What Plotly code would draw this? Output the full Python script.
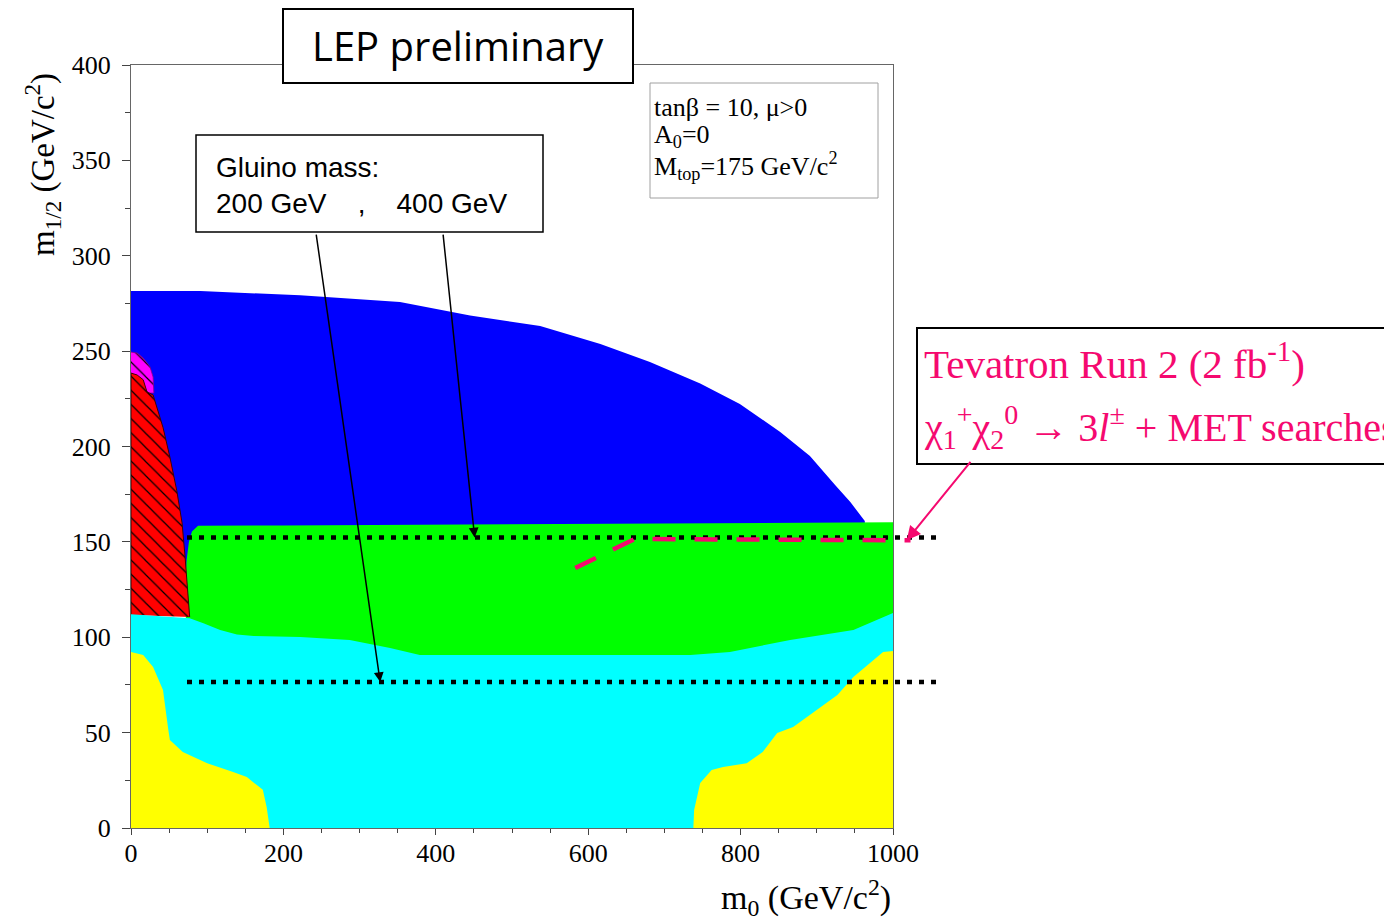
import plotly.graph_objects as go

# ---------------- data ----------------
X_RANGE = [0, 1000]
Y_RANGE = [0, 400]

# LEP excluded / allowed regions in the (m0, m1/2) plane
blue_m0 = [0, 91, 222, 353, 445, 537, 616, 681, 747, 799, 852, 891, 924, 944, 963, 963, 0]
blue_m12 = [281.5, 281.5, 279.3, 275.8, 268.7, 263.2, 253.7, 244.3, 233, 222.3, 207.6, 195, 179.8, 170.9, 160.9, 120, 120]

green_m0 = [72, 70, 73, 76, 80, 88, 200, 400, 600, 800, 963, 1000, 1000, 72]
green_m12 = [110, 123, 140.5, 150, 155.5, 158.4, 158.6, 159.0, 159.4, 159.8, 160.5, 160.3, 80, 80]

cyan_m0 = [0, 77, 95, 117, 139, 161, 222, 287, 340, 379, 734, 786, 865, 948, 1000, 1000, 0]
cyan_m12 = [112, 110, 107.3, 103.8, 101.5, 100.7, 100.1, 98.6, 94.4, 90.7, 90.7, 92.3, 98.6, 103.8, 112.7, 0, 0]

yellow_left_m0 = [0, 16, 29, 42, 49, 51, 68, 100, 134, 152, 173, 178, 182, 0]
yellow_left_m12 = [92.3, 90.7, 84.4, 72.3, 51.4, 46.1, 39.8, 34, 29.4, 26.7, 20, 11, 0, 0]

yellow_right_m0 = [738, 739, 747, 762, 777, 808, 829, 848, 869, 927, 948, 987, 1000, 1000]
yellow_right_m12 = [0, 9.4, 23.6, 30.4, 32, 34, 39.8, 49.8, 53, 69.7, 79.2, 92.3, 92.8, 0]

magenta_m0 = [0, 8, 16, 25, 29, 30, 21, 0]
magenta_m12 = [249.5, 249, 246.4, 241.7, 236.4, 228, 228, 230]

red_m0 = [0, 0, 8, 16, 21, 29, 42, 51, 60, 67, 71, 75, 77]
red_m12 = [111.7, 238.5, 237.5, 235, 228.6, 227, 210, 194.5, 177, 160, 142, 123, 110.6]

# gluino mass iso-lines (200 GeV, 400 GeV)
gluino_m12 = [76.5, 152.3]
gluino_m0_extent = [73.5, 1058]

# Tevatron Run 2 reach
tev_m0 = [583, 661, 1023]
tev_m12 = [136.3, 151.5, 150.8]

x_ticks = [0, 200, 400, 600, 800, 1000]
y_ticks = [0, 50, 100, 150, 200, 250, 300, 350, 400]

# ---------------- layout helpers ----------------
W, H = 1392, 921
OFF = 8  # page body margin
PL, PR, PT, PB = 131, 893, 65, 828


def px(xp):
    return (xp - PL) / (PR - PL)


def py(yp):
    return (PB - yp) / (PB - PT)


def xfrac(m0):
    return (m0 - X_RANGE[0]) / (X_RANGE[1] - X_RANGE[0])


PINK = "#F5096F"
SERIF = "Liberation Serif, Times New Roman, serif"

fig = go.Figure()


def poly(xs, ys, color, pattern=None, lw=0, lc=None):
    kw = {}
    if pattern:
        kw["fillpattern"] = dict(shape="\\", fgcolor="black", bgcolor=color,
                                 size=10, solidity=0.12, fillmode="replace")
    fig.add_trace(go.Scatter(
        x=xs, y=ys, mode="lines", fill="toself", fillcolor=color,
        line=dict(width=lw, color=lc or color), hoverinfo="skip",
        showlegend=False, **kw))


poly(blue_m0, blue_m12, "#0000FF")
poly(green_m0, green_m12, "#00FF00")
poly(magenta_m0, magenta_m12, "#FF00FF", pattern=True, lw=0.8, lc="#880088")
poly(red_m0, red_m12, "#FF0000", pattern=True, lw=1, lc="#400000")
poly(cyan_m0, cyan_m12, "#00FFFF")
poly(yellow_left_m0, yellow_left_m12, "#FFFF00")
poly(yellow_right_m0, yellow_right_m12, "#FFFF00")

shapes = []
# gluino dotted lines
for g in gluino_m12:
    shapes.append(dict(type="line", xref="paper", yref="y",
                       x0=xfrac(gluino_m0_extent[0]), x1=xfrac(gluino_m0_extent[1]),
                       y0=g, y1=g,
                       line=dict(color="black", width=4.5, dash="5px,7px")))
# Tevatron reach (pink dashed)
path = "M " + " L ".join(f"{xfrac(a)},{b}" for a, b in zip(tev_m0, tev_m12))
shapes.append(dict(type="path", xref="paper", yref="y", path=path,
                   line=dict(color=PINK, width=4.5, dash="23px,19px")))

# text boxes
shapes.append(dict(type="rect", xref="paper", yref="paper",
                   x0=px(283), x1=px(633), y0=py(83), y1=py(9),
                   line=dict(color="black", width=2), fillcolor="white"))
shapes.append(dict(type="rect", xref="paper", yref="paper",
                   x0=px(196), x1=px(543), y0=py(232), y1=py(135),
                   line=dict(color="black", width=1.5), fillcolor="white"))
shapes.append(dict(type="rect", xref="paper", yref="paper",
                   x0=px(650), x1=px(878), y0=py(198), y1=py(83),
                   line=dict(color="#A0A0A0", width=1), fillcolor="white"))
shapes.append(dict(type="rect", xref="paper", yref="paper",
                   x0=px(917), x1=px(1410), y0=py(464), y1=py(328),
                   line=dict(color="black", width=2), fillcolor="white"))

params_lines = ["tanβ = 10, μ>0", "A<sub>0</sub>=0", "M<sub>top</sub>=175 GeV/c<sup>2</sup>"]
params_y = [107, 136, 166]

annotations = [
    dict(text="LEP preliminary", xref="paper", yref="paper", x=px(458), y=py(46),
         xanchor="center", yanchor="middle", showarrow=False,
         font=dict(family="Open Sans", size=40, color="black")),
    dict(text="Gluino mass:<br>200 GeV\u00a0\u00a0\u00a0\u00a0,\u00a0\u00a0\u00a0\u00a0400 GeV",
         xref="paper", yref="paper", x=px(214), y=py(185), xanchor="left", yanchor="middle",
         align="left", showarrow=False,
         font=dict(family="Liberation Sans, Arial", size=28, color="black")),
    dict(text="Tevatron Run 2 (2 fb<sup>-1</sup>)", xref="paper", yref="paper",
         x=px(922), y=py(361), xanchor="left", yanchor="middle", showarrow=False,
         font=dict(family=SERIF, size=41, color=PINK)),
    dict(text="χ<sub>1</sub><sup>+</sup>χ<sub>2</sub><sup>0</sup> → 3<i>l</i><sup>±</sup> + MET searches",
         xref="paper", yref="paper",
         x=px(922), y=py(427), xanchor="left", yanchor="middle", showarrow=False,
         font=dict(family=SERIF, size=40, color=PINK)),
    # axis titles
    dict(text="m<sub>0</sub> (GeV/c<sup>2</sup>)", xref="paper", yref="paper",
         x=1.0, y=py(897), xanchor="right", yanchor="middle", showarrow=False,
         font=dict(family=SERIF, size=34, color="black")),
    dict(text="m<sub>1/2</sub> (GeV/c<sup>2</sup>)", xref="paper", yref="paper",
         x=px(42), y=py(165), xanchor="center", yanchor="middle", showarrow=False,
         textangle=-90, font=dict(family=SERIF, size=33, color="black")),
    # gluino arrows
    dict(text="", x=327, y=gluino_m12[0], xref="x", yref="y",
         ax=242.8, ay=311.9, axref="x", ayref="y", showarrow=True,
         arrowhead=2, arrowsize=1.3, arrowwidth=1.5, arrowcolor="black"),
    dict(text="", x=451, y=gluino_m12[1], xref="x", yref="y",
         ax=409.4, ay=311.9, axref="x", ayref="y", showarrow=True,
         arrowhead=2, arrowsize=1.3, arrowwidth=1.5, arrowcolor="black"),
    # Tevatron arrow
    dict(text="", x=xfrac(1018), y=tev_m12[-1], xref="paper", yref="y",
         ax=65, ay=-80, showarrow=True,
         arrowhead=2, arrowsize=1.4, arrowwidth=2, arrowcolor=PINK),
]
for t, yy in zip(params_lines, params_y):
    annotations.append(dict(text=t, xref="paper", yref="paper", x=px(652), y=py(yy),
                            xanchor="left", yanchor="middle", showarrow=False,
                            font=dict(family=SERIF, size=26, color="black")))

fig.update_layout(
    width=W, height=H,
    margin=dict(l=PL - OFF, r=W - (PR - OFF), t=PT - OFF, b=H - (PB - OFF)),
    paper_bgcolor="white", plot_bgcolor="white",
    shapes=shapes, annotations=annotations,
    showlegend=False,
)
fig.update_xaxes(range=X_RANGE, tickvals=x_ticks, ticks="outside", ticklen=6,
                 tickcolor="#444", tickwidth=1, showgrid=False, zeroline=False,
                 showline=True, linecolor="#666", linewidth=1, mirror=True,
                 tickfont=dict(family=SERIF, size=26, color="black"),
                 ticklabelstandoff=-4,
                 minor=dict(dtick=50, ticks="outside", ticklen=4, tickcolor="#444", showgrid=False))
fig.update_yaxes(range=Y_RANGE, tickvals=y_ticks, ticks="outside", ticklen=8,
                 tickcolor="#444", tickwidth=1, showgrid=False, zeroline=False,
                 showline=True, linecolor="#666", linewidth=1, mirror=True,
                 tickfont=dict(family=SERIF, size=26, color="black"),
                 ticklabelstandoff=6,
                 minor=dict(dtick=25, ticks="outside", ticklen=5, tickcolor="#444", showgrid=False))

fig.write_html("out.html")
